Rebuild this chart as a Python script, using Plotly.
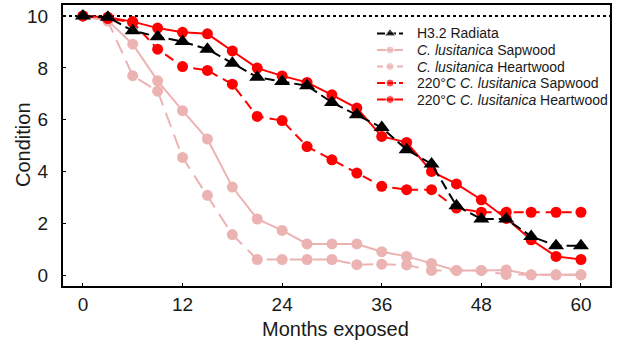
import plotly.graph_objects as go

months = [0, 3, 6, 9, 12, 15, 18, 21, 24, 27, 30, 33, 36, 39, 42, 45, 48, 51, 54, 57, 60]

radiata = [10.0, 9.95, 9.43, 9.2, 9.01, 8.72, 8.18, 7.64, 7.47, 7.31, 6.67, 6.19, 5.7, 4.85, 4.3, 2.69, 2.18, 2.18, 1.51, 1.15, 1.15]
lus_sap = [10.0, 9.82, 8.91, 7.5, 6.35, 5.26, 3.41, 2.18, 1.74, 1.22, 1.22, 1.22, 0.92, 0.74, 0.47, 0.2, 0.2, 0.22, 0.03, 0.03, 0.03]
lus_heart = [10.0, 9.8, 7.7, 7.1, 4.55, 3.09, 1.58, 0.62, 0.62, 0.62, 0.62, 0.42, 0.44, 0.41, 0.2, 0.2, 0.2, 0.04, 0.03, 0.03, 0.03]
t220_sap = [10.0, 9.9, 9.75, 8.72, 8.05, 7.9, 7.37, 6.13, 5.97, 4.97, 4.46, 3.95, 3.44, 3.31, 3.31, 2.6, 2.44, 2.44, 2.44, 2.44, 2.44]
t220_heart = [10.0, 9.95, 9.78, 9.53, 9.37, 9.31, 8.65, 7.99, 7.69, 7.44, 6.96, 6.45, 5.36, 5.13, 4.01, 3.53, 2.92, 2.2, 1.38, 0.74, 0.62]

x_ticks = [0, 12, 24, 36, 48, 60]
y_ticks = [0, 2, 4, 6, 8, 10]

PINK = "#ecb3b3"
RED = "#ff0000"
BLACK = "#000000"
TEXT = "#1a1a1a"
FONT = "Arial, Liberation Sans, sans-serif"

# plot area in pixels
L, R, T, B = 63, 610, 5, 286
PW, PH = R - L, B - T

series = [
    ("<i>C. lusitanica</i> Sapwood", lus_sap, PINK, "solid", "circle", 11),
    ("<i>C. lusitanica</i> Heartwood", lus_heart, PINK, "15px,8px", "circle", 11),
    ("220°C <i>C. lusitanica</i> Sapwood", t220_sap, RED, "10px,6px", "circle", 11),
    ("220°C <i>C. lusitanica</i> Heartwood", t220_heart, RED, "solid", "circle", 11),
    ("H3.2 Radiata", radiata, BLACK, "10px,5px", "triangle-up", 14),
]

fig = go.Figure()
for name, ys, col, dash, sym, size in series:
    fig.add_trace(go.Scatter(
        x=months, y=ys, mode="lines+markers", name=name, showlegend=False,
        line=dict(color=col, width=2, dash=dash),
        marker=dict(color=col, symbol=sym, size=size),
        hoverinfo="skip",
    ))

# manual legend (compact row spacing like the reference)
legend_items = [
    ("H3.2 Radiata", BLACK, "8px,3px", "triangle-up", 10),
    ("<i>C. lusitanica</i> Sapwood", PINK, "solid", "circle", 8),
    ("<i>C. lusitanica</i> Heartwood", PINK, "6px,4px", "circle", 8),
    ("220°C <i>C. lusitanica</i> Sapwood", RED, "8px,3px", "circle", 8),
    ("220°C <i>C. lusitanica</i> Heartwood", RED, "solid", "circle", 8),
]
row_px = [33.5, 50, 66.5, 83, 99.5]
lx0, lxm, lx1, ltext = 377, 390, 403, 415
for (name, col, dash, sym, msize), ry in zip(legend_items, row_px):
    yy = 1 - (ry - T) / PH
    fig.add_trace(go.Scatter(
        x=[(lx0 - L) / PW, (lxm - L) / PW, (lx1 - L) / PW], y=[yy, yy, yy],
        xaxis="x2", yaxis="y2", mode="lines+markers", showlegend=False,
        line=dict(color=col, width=2, dash=dash),
        marker=dict(color=col, symbol=sym, size=[0, msize, 0]),
        hoverinfo="skip",
    ))
    fig.add_annotation(text=name, xref="paper", yref="paper",
                       x=(ltext - L) / PW, y=yy, xanchor="left", yanchor="middle",
                       showarrow=False, font=dict(size=14, family=FONT, color=TEXT))

fig.add_shape(type="line", xref="paper", yref="y", x0=0, x1=1, y0=10, y1=10,
              line=dict(color=BLACK, width=2, dash="dot"), layer="below")

fig.add_annotation(text="Months exposed", xref="paper", yref="paper",
                   x=(335.5 - L) / PW, y=-(329 - B) / PH,
                   xanchor="center", yanchor="middle", showarrow=False,
                   font=dict(size=20, family=FONT, color=TEXT))
fig.add_annotation(text="Condition", xref="paper", yref="paper",
                   x=-(L - 23) / PW, y=1 - (145 - T) / PH,
                   xanchor="center", yanchor="middle", showarrow=False, textangle=-90,
                   font=dict(size=20, family=FONT, color=TEXT))

fig.update_layout(
    width=618, height=344,
    margin=dict(l=L, r=618 - R, t=T, b=344 - B, autoexpand=False),
    paper_bgcolor="white", plot_bgcolor="white",
    font=dict(family=FONT, color=TEXT),
    showlegend=False,
    xaxis=dict(range=[-2.4, 63.5], tickvals=x_ticks, ticks="inside", ticklen=3,
               tickwidth=1, tickcolor=BLACK, automargin=False,
               showline=True, linecolor=BLACK, linewidth=2, mirror=True,
               showgrid=False, zeroline=False, tickfont=dict(size=19, color=TEXT),
               ticklabelstandoff=0),
    yaxis=dict(range=[-0.4, 10.42], tickvals=y_ticks, ticks="inside", ticklen=3,
               tickwidth=1, tickcolor=BLACK, automargin=False,
               showline=True, linecolor=BLACK, linewidth=2, mirror=True,
               showgrid=False, zeroline=False, tickfont=dict(size=19, color=TEXT),
               ticklabelstandoff=9),
    xaxis2=dict(range=[0, 1], domain=[0, 1], overlaying="x", visible=False, fixedrange=True),
    yaxis2=dict(range=[0, 1], domain=[0, 1], overlaying="y", visible=False, fixedrange=True),
)

fig.write_html("out.html", config={"displayModeBar": False},
               post_script="document.body.style.margin='0';document.body.style.padding='0';")
